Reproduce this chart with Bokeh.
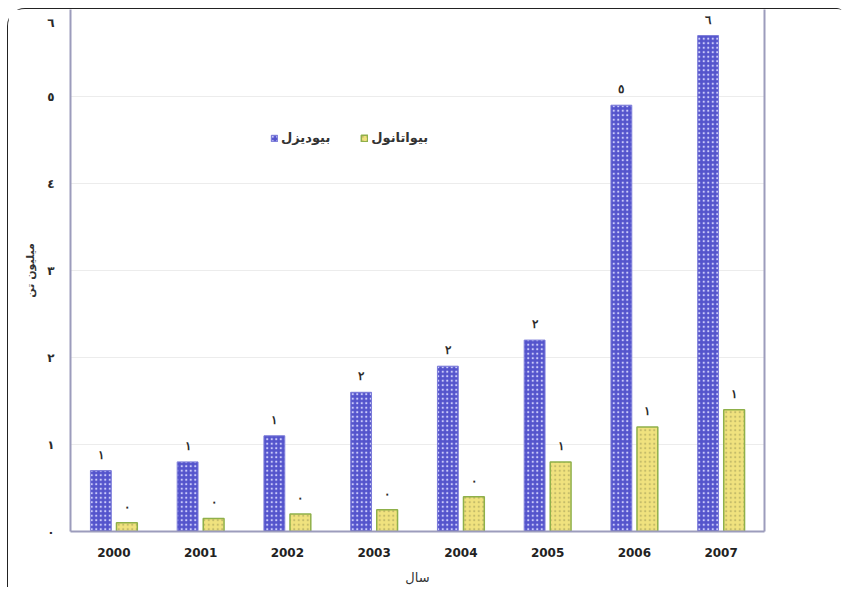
from bokeh.plotting import figure
from bokeh.models import (ColumnDataSource, FactorRange, FixedTicker, LabelSet,
                          Legend, LegendItem, LinearAxis, Range1d)
from bokeh.transform import dodge
from bokeh.embed import file_html
from bokeh.resources import INLINE

# ---- data ----
years = ["2000", "2001", "2002", "2003", "2004", "2005", "2006", "2007"]
biodiesel = [0.7, 0.8, 1.1, 1.6, 1.9, 2.2, 4.9, 5.7]
bioethanol = [0.1, 0.15, 0.2, 0.25, 0.4, 0.8, 1.2, 1.4]
y_ticks = [0, 1, 2, 3, 4, 5, 6]
series_names = ["بیودیزل", "بیواتانول"]
x_title = "سال"
y_title = "میلیون تن"

AR = "٠١٢٣٤٥٦٧٨٩"
def ar(n):
    return "".join(AR[int(c)] for c in str(n))

src = ColumnDataSource(dict(
    year=years,
    bd=biodiesel,
    be=bioethanol,
    bd_lab=[ar(int(round(v))) for v in biodiesel],
    be_lab=[ar(int(round(v))) for v in bioethanol],
))

AFONT = "DejaVu Sans"
FRAME = "#9c9cbc"

p = figure(width=836, height=579, x_range=FactorRange(*years, range_padding=0),
           y_range=Range1d(0, 6), output_backend="svg", toolbar_location=None,
           min_border_left=62, min_border_right=80, min_border_top=0, min_border_bottom=57)
p.outline_line_color = None
p.background_fill_color = "white"
p.border_fill_color = "white"
p.styles = {"margin-left": "7px", "margin-top": "8px",
            "border-top": "1.5px solid #222", "border-left": "1.5px solid #222",
            "border-top-left-radius": "18px", "border-top-right-radius": "6px"}

r1 = p.vbar(x=dodge("year", -0.15, range=p.x_range), top="bd", width=0.24, source=src,
            fill_color="#5454cc", line_color="#7a7ad8", line_width=1,
            hatch_pattern="dot", hatch_color="#d8d8ff", hatch_scale=4.5, hatch_weight=1.6, hatch_alpha=0.9)
r2 = p.vbar(x=dodge("year", 0.15, range=p.x_range), top="be", width=0.24, source=src,
            fill_color="#f0e27e", line_color="#8fb04a", line_width=1.5,
            hatch_pattern="dot", hatch_color="#b9b264", hatch_scale=4.5, hatch_weight=1.4, hatch_alpha=0.8)

for col, lab, off in (("bd", "bd_lab", -0.15), ("be", "be_lab", 0.15)):
    p.add_layout(LabelSet(x=dodge("year", off, range=p.x_range), y=col, text=lab, source=src,
                          y_offset=16, text_align="center", text_baseline="middle",
                          text_font=AFONT, text_font_style="bold", text_font_size="12px",
                          text_color="#2a2a2a"))

# axes
p.xaxis.axis_line_color = FRAME
p.xaxis.axis_line_width = 2
p.xaxis.major_tick_line_color = None
p.xaxis.minor_tick_line_color = None
p.xaxis.major_label_text_font = AFONT
p.xaxis.major_label_text_font_style = "bold"
p.xaxis.major_label_text_font_size = "12px"
p.xaxis.major_label_text_color = "#222222"
p.xaxis.major_label_standoff = 10
p.xaxis.axis_label = x_title
p.xaxis.axis_label_text_font = AFONT
p.xaxis.axis_label_text_font_style = "normal"
p.xaxis.axis_label_text_font_size = "13px"
p.xaxis.axis_label_text_color = "#333333"
p.xaxis.axis_label_standoff = 10

# the top label (6) sits a little below its gridline in the reference
top_pos = y_ticks[-1] - 0.16
label_ticks = y_ticks[:-1] + [top_pos]
p.yaxis.ticker = FixedTicker(ticks=label_ticks)
overrides = {t: ar(t) for t in y_ticks[:-1]}
overrides[top_pos] = ar(y_ticks[-1])
p.yaxis.major_label_overrides = overrides
p.yaxis.axis_line_color = FRAME
p.yaxis.axis_line_width = 2
p.yaxis.major_tick_line_color = None
p.yaxis.minor_tick_line_color = None
p.yaxis.major_label_text_font = AFONT
p.yaxis.major_label_text_font_style = "bold"
p.yaxis.major_label_text_font_size = "12px"
p.yaxis.major_label_text_color = "#2a2a2a"
p.yaxis.major_label_standoff = 10
p.yaxis.axis_label = y_title
p.yaxis.axis_label_text_font = AFONT
p.yaxis.axis_label_text_font_style = "bold"
p.yaxis.axis_label_text_font_size = "11px"
p.yaxis.axis_label_text_color = "#333333"
p.yaxis.axis_label_standoff = 7

right = LinearAxis(ticker=FixedTicker(ticks=[]), axis_line_color=FRAME, axis_line_width=2,
                   major_tick_line_color=None, minor_tick_line_color=None,
                   major_label_text_font_size="0px")
p.add_layout(right, "right")

p.xgrid.grid_line_color = None
p.ygrid.ticker = FixedTicker(ticks=y_ticks[1:-1])
p.ygrid.grid_line_color = "#ececec"
p.ygrid.grid_line_width = 1

legend = Legend(items=[LegendItem(label=series_names[0], renderers=[r1]),
                       LegendItem(label=series_names[1], renderers=[r2])],
                orientation="horizontal", location=(200, 386),
                glyph_width=8, glyph_height=8, label_standoff=3, spacing=30,
                padding=0, margin=0, border_line_color=None, background_fill_alpha=0,
                label_text_font=AFONT, label_text_font_style="bold",
                label_text_font_size="13px", label_text_color="#333333")
p.add_layout(legend, "center")

open("out.html", "w").write(file_html(p, INLINE))
